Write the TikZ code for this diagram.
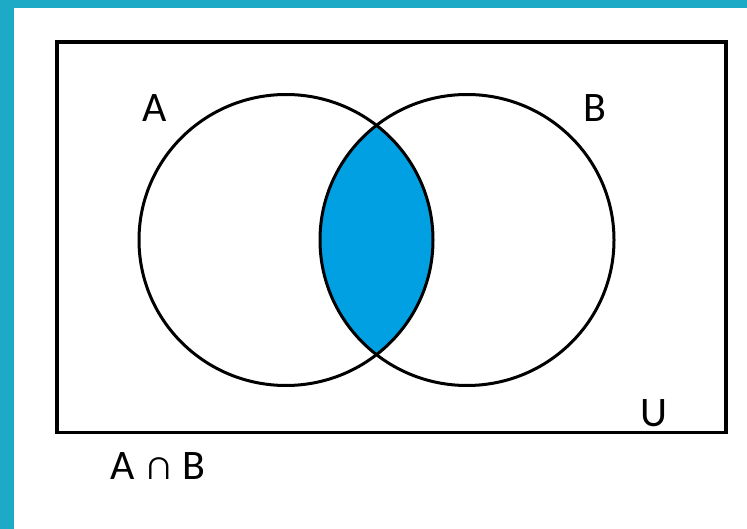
\documentclass[tikz,border=0pt]{standalone}
\usepackage{fontspec}
\setmainfont{Carlito}
\usepackage{tikz}
\usetikzlibrary{positioning}
\definecolor{frameteal}{HTML}{1DAAC6}
\definecolor{setblue}{HTML}{00A0E3}

\begin{document}
\begin{tikzpicture}[
    x=1pt, y=-1pt,
    setline/.style={draw=black, line width=3pt},
    setlabel/.style={font=\fontsize{42}{50}\selectfont, inner sep=0pt},
]
\useasboundingbox (0,0) rectangle (747,529);
% Frame
\fill[frameteal] (0,0) rectangle (747,529);
\fill[white] (14,8) rectangle (747,529);

% Universe and sets
\coordinate (ca) at (286,240);
\coordinate (cb) at (467,240);
\begin{scope}
  \clip (ca) ellipse[x radius=147pt, y radius=145.5pt];
  \fill[setblue] (cb) ellipse[x radius=147pt, y radius=145.5pt];
\end{scope}
\draw[setline, line width=3.5pt] (57,42) rectangle (726,432.5);
\draw[setline] (ca) ellipse[x radius=147pt, y radius=145.5pt];
\draw[setline] (cb) ellipse[x radius=147pt, y radius=145.5pt];

% Labels
\node[setlabel] (labA) at (155,108) {A};
\node[setlabel] (labB) at (595,108) {B};
\node[setlabel] (labU) at (654,413) {U};
\node[setlabel] (caption) at (158,466) {A ∩ B};
\end{tikzpicture}
\end{document}
